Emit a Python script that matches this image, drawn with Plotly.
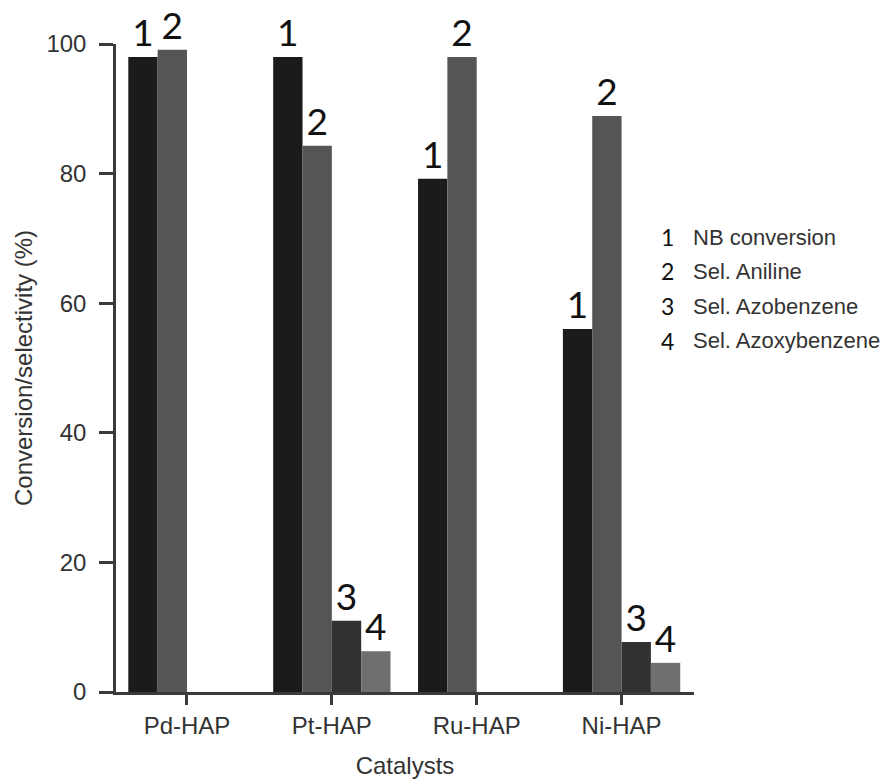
import plotly.graph_objects as go

catalysts = ["Pd-HAP", "Pt-HAP", "Ru-HAP", "Ni-HAP"]
series_labels = ["1", "2", "3", "4"]
series_names = ["NB conversion", "Sel. Aniline", "Sel. Azobenzene", "Sel. Azoxybenzene"]
nb_conversion = [98.0, 98.0, 79.2, 56.0]
sel_aniline = [99.1, 84.3, 98.0, 88.9]
sel_azobenzene = [None, 11.0, None, 7.7]
sel_azoxybenzene = [None, 6.3, None, 4.5]
y_ticks = [0, 20, 40, 60, 80, 100]

series_values = [nb_conversion, sel_aniline, sel_azobenzene, sel_azoxybenzene]
colors = ["#1b1b1b", "#555555", "#313131", "#6f6f6f"]

LABEL_FONT = "Lato, 'Open Sans', sans-serif"
TEXT_FONT = "'Liberation Sans', Arial, sans-serif"

fig = go.Figure()
for lab, vals, col in zip(series_labels, series_values, colors):
    fig.add_trace(go.Bar(
        x=catalysts, y=vals, name=lab,
        marker=dict(color=col, line=dict(width=0)),
        text=[lab if v is not None else "" for v in vals],
        textposition="outside", constraintext="none", cliponaxis=False,
        textfont=dict(family=LABEL_FONT, size=37, color="#111111"),
        showlegend=False,
    ))

# text-only legend
row_y = [237, 271, 306, 341]
L, R, T, B = 116, 694, 44, 692
for i, (num, nm) in enumerate(zip(series_labels, series_names)):
    yp = 1 - (row_y[i] - T) / (B - T)
    fig.add_annotation(x=(667 - L) / (R - L), y=yp, xref="paper", yref="paper",
                       text=num, showarrow=False, xanchor="center", yanchor="middle",
                       font=dict(family=LABEL_FONT, size=23, color="#111111"))
    fig.add_annotation(x=(691 - L) / (R - L), y=yp, xref="paper", yref="paper",
                       text=nm, showarrow=False, xanchor="left", yanchor="middle",
                       font=dict(family=TEXT_FONT, size=22, color="#333333"))

fig.update_layout(
    width=891, height=781,
    margin=dict(l=L, r=891 - R, t=T, b=781 - B, autoexpand=False),
    paper_bgcolor="white", plot_bgcolor="white",
    barmode="group", bargap=0.19, bargroupgap=0,
    font=dict(family=TEXT_FONT, color="#333333"),
)
fig.update_xaxes(
    range=[-0.49, 3.5], showline=True, linecolor="#3a3a3a", linewidth=2.5,
    ticks="outside", ticklen=10, tickwidth=2.5, tickcolor="#3a3a3a",
    tickfont=dict(size=24, color="#333333"), ticklabelstandoff=0,
    showgrid=False, zeroline=False, automargin=False,
    title=dict(text="Catalysts", font=dict(size=24, color="#333333"), standoff=20),
)
fig.update_yaxes(
    range=[0, 100], tickvals=y_ticks, showline=True, linecolor="#3a3a3a", linewidth=2.5,
    ticks="outside", ticklen=14, tickwidth=2.5, tickcolor="#3a3a3a",
    tickfont=dict(size=24, color="#333333"), ticklabelstandoff=8,
    showgrid=False, zeroline=False, automargin=False,
    title=dict(text="Conversion/selectivity (%)", font=dict(size=24, color="#333333"), standoff=8),
)

fig.write_html("out.html", config={"displayModeBar": False},
               post_script="document.body.style.margin='0px';")
